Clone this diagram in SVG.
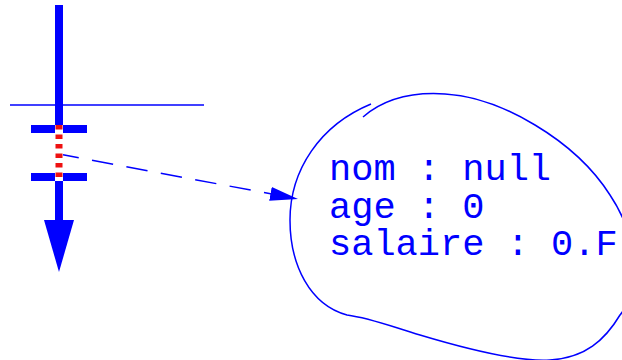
<svg xmlns="http://www.w3.org/2000/svg" width="622" height="360" viewBox="0 0 622 360">
<defs>
<style>
.thin{fill:none;stroke:#0000ff;stroke-width:1.5}
.txt{font-family:"Liberation Mono","Courier New",monospace;font-size:37px;fill:#0000ff}
</style>
<marker id="ah" markerUnits="userSpaceOnUse" markerWidth="30" markerHeight="16" refX="28" refY="7" orient="auto" viewBox="0 0 30 16">
<path d="M0,0 L28,7 L0,14 Z" fill="#0000ff"/>
</marker>
</defs>
<rect width="622" height="360" fill="#ffffff"/>
<g id="variable">
<line x1="59" y1="5" x2="59" y2="222" stroke="#0000ff" stroke-width="8"/>
<polygon points="44,220 74,220 59,272" fill="#0000ff"/>
<line class="thin" x1="10" y1="105" x2="204" y2="105"/>
<rect x="31" y="125" width="56" height="8" fill="#0000ff"/>
<rect x="31" y="173" width="56" height="8" fill="#0000ff"/>
<rect x="55" y="125" width="8" height="56" fill="#ffffff"/>
<line x1="59" y1="125" x2="59" y2="181" stroke="#ee1111" stroke-width="7" stroke-dasharray="4.5 5"/>
</g>
<g id="connectors">
<line x1="63" y1="154.8" x2="298" y2="199" stroke="#0000ff" stroke-width="1.5" stroke-dasharray="21.5 13.5" stroke-dashoffset="5.5" marker-end="url(#ah)"/>
</g>
<g id="object">
<path class="thin" d="M363,117 C385,98 415,92 445,94 C500,97 575,140 610,195 C640,240 640,290 620,315 C605,340 585,358 550,360 C520,362 470,350 420,335 C390,326 370,318 347,315 C310,305 290,265 290,220 C290,170 320,125 371,104"/>
<text class="txt"><tspan x="329" y="180">nom : null</tspan><tspan x="329" y="217.5">age : 0</tspan><tspan x="329" y="255">salaire : 0.F</tspan></text>
</g>
</svg>
